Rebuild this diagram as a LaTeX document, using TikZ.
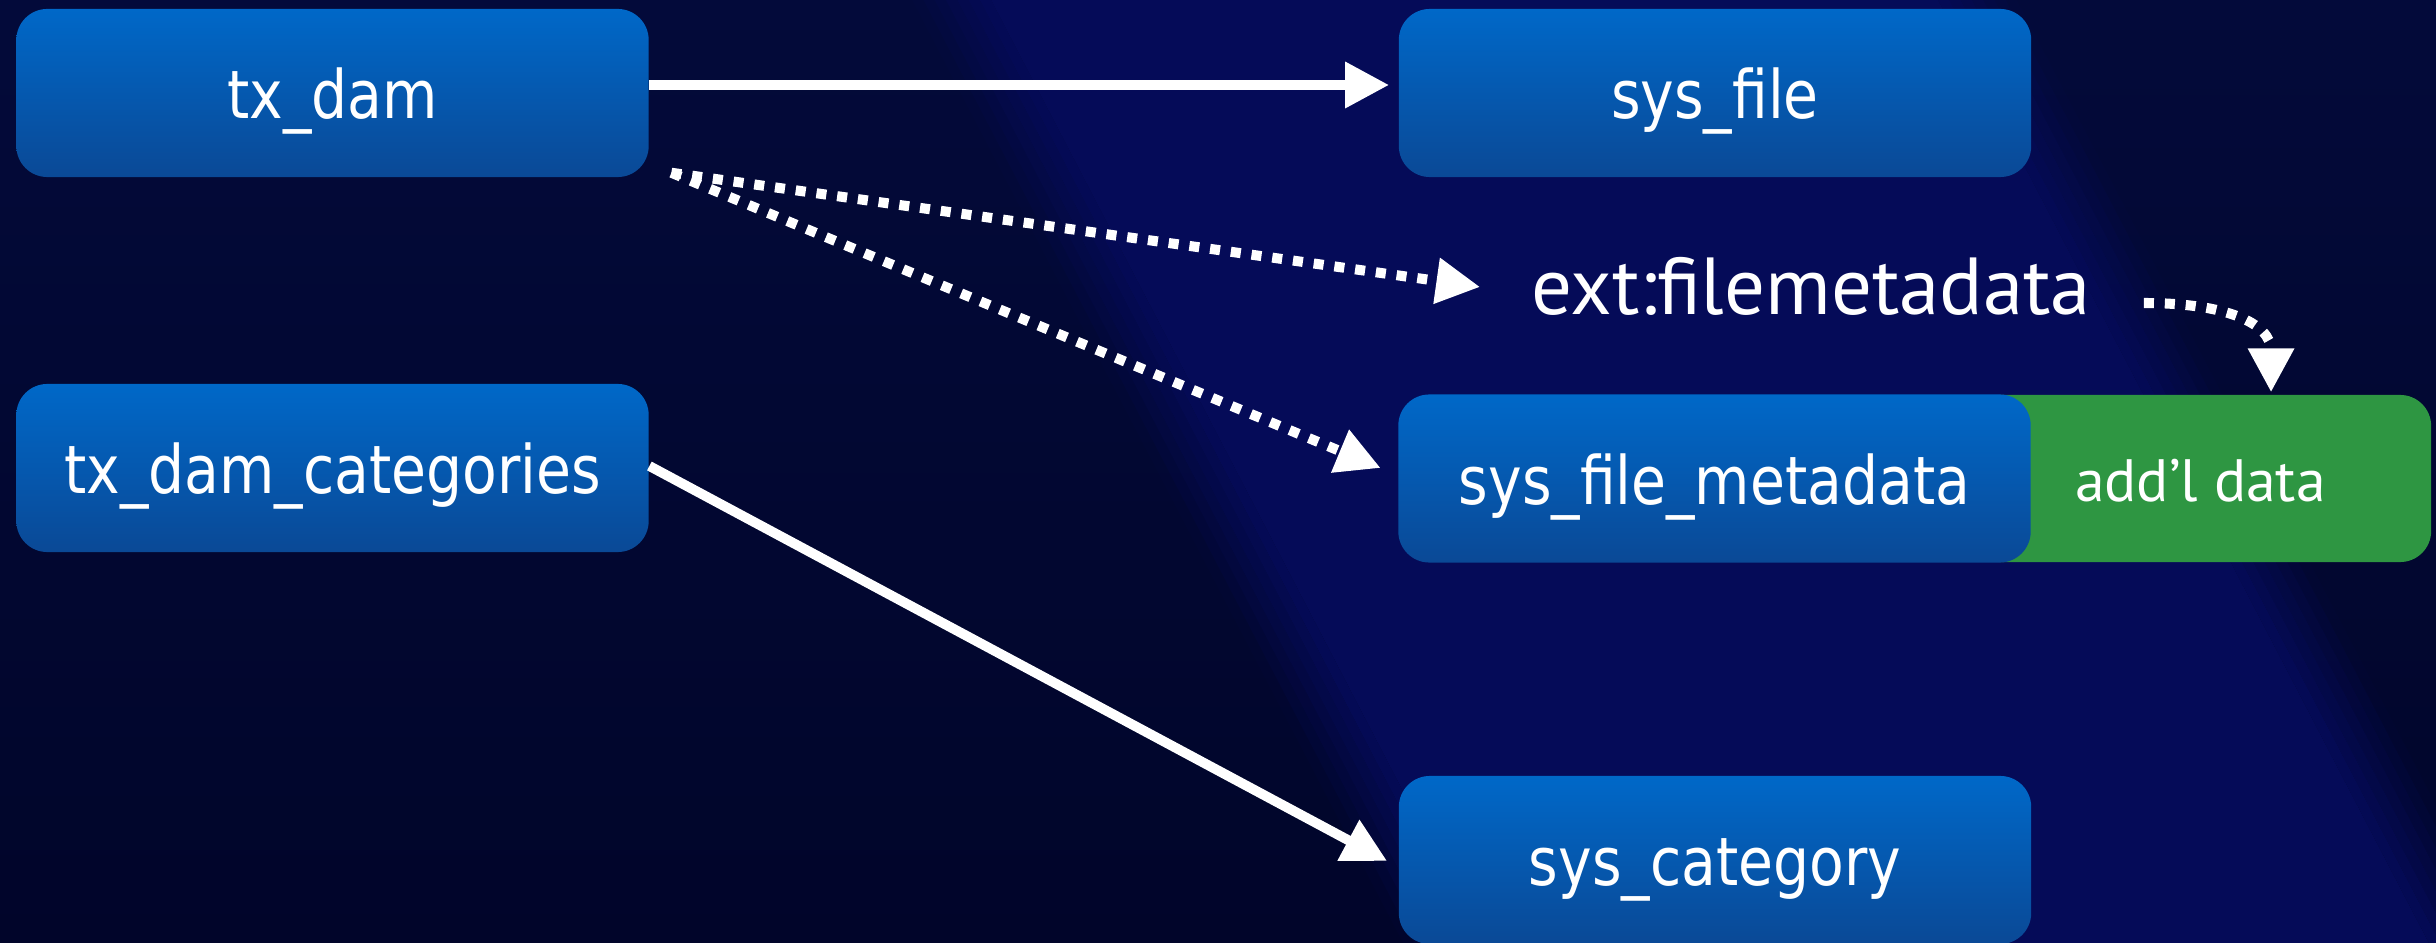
\documentclass[tikz,border=0pt]{standalone}
\usepackage{fontspec}
\newfontfamily\boxfont[FakeStretch=0.85]{DejaVu Sans}
\newfontfamily\gillfont{PT Sans}
\usetikzlibrary{arrows.meta}
\definecolor{bgtop}{HTML}{030A3A}
\definecolor{bgbot}{HTML}{01052A}
\definecolor{bandc}{HTML}{050B58}
\definecolor{boxtop}{HTML}{0068C8}
\definecolor{boxbot}{HTML}{0A4996}
\definecolor{greenc}{HTML}{2E9642}
\begin{document}
\begin{tikzpicture}[x=0.01cm,y=-0.01cm,
  dbbox/.style={rounded corners=0.31cm, top color=boxtop, bottom color=boxbot,
    minimum width=6.32cm, minimum height=1.68cm, inner sep=0pt, text=white,
    font=\boxfont\fontsize{19}{22}\selectfont, text height=17pt, text depth=2.4pt},
  greenbox/.style={rounded corners=0.31cm, fill=greenc, minimum width=4.61cm,
    minimum height=1.67cm, inner sep=0pt, text=white,
    font=\gillfont\fontsize{17}{20}\selectfont, text height=14.5pt, text depth=1.6pt},
  lbl/.style={inner sep=0pt, text=white, font=\gillfont\fontsize{23}{26}\selectfont,
    minimum width=5.6cm, anchor=base},
  headtip/.style={-{Triangle[length=12.5pt,width=12.5pt]}},
  solidarrow/.style={draw=white, line width=2.8pt, headtip},
  dotarrow/.style={draw=white, line width=2.85pt, dash pattern=on 2.85pt off 3.1pt, headtip},
]
\useasboundingbox (0,0) rectangle (2436,943);
\shade[top color=bgtop, bottom color=bgbot] (0,0) rectangle (2436,943);
\begin{scope}
  \clip (0,0) rectangle (2436,943);
  \begin{scope}[shift={(1710,471.5)}, rotate=27.5]
    \fill[bandc] (-420,-1000) rectangle (420,1000);
    \foreach \i in {0,...,6}{
      \pgfmathsetmacro\op{1-(\i+0.5)/7}
      \fill[bandc, fill opacity=\op] (420+10*\i,-1000) rectangle (430+10*\i,1000);
      \fill[bandc, fill opacity=\op] (-420-10*\i,-1000) rectangle (-430-10*\i,1000);
    }
  \end{scope}
\end{scope}

\node[dbbox] (txdam) at (332.5,93) {tx\_dam};
\node[dbbox] (sysfile) at (1715,93) {sys\_file};
\node[dbbox] (txcat) at (332.5,468) {tx\_dam\_categories};
\node[greenbox] (green) at (2200.5,478.5) {add’l data};
\node[dbbox] (sfm) at (1714.5,478.5) {sys\_file\_metadata};
\node[dbbox] (syscat) at (1715,860) {sys\_category};
\node[lbl] (ext) at (1811,315) {ext:filemetadata};

\coordinate (dstart) at ([shift={(0.22cm,0.05cm)}]txdam.south east);
\draw[solidarrow] ([yshift=0.08cm]txdam.east) -- ([yshift=0.08cm,xshift=-0.09cm]sysfile.west);
\draw[dotarrow] (dstart) -- ([shift={(-0.5cm,0.28cm)}]ext.base west);
\draw[dotarrow] (dstart) -- ([shift={(-0.17cm,0.105cm)}]sfm.west);
\draw[solidarrow] ([yshift=0.02cm]txcat.east) -- ([shift={(-0.11cm,-0.01cm)}]syscat.west);
\draw[dotarrow] ([shift={(0.52cm,0.12cm)}]ext.base east) .. controls +(80,0) and +(0,-70) .. ([shift={(0.705cm,0.02cm)}]green.north);
\end{tikzpicture}
\end{document}
